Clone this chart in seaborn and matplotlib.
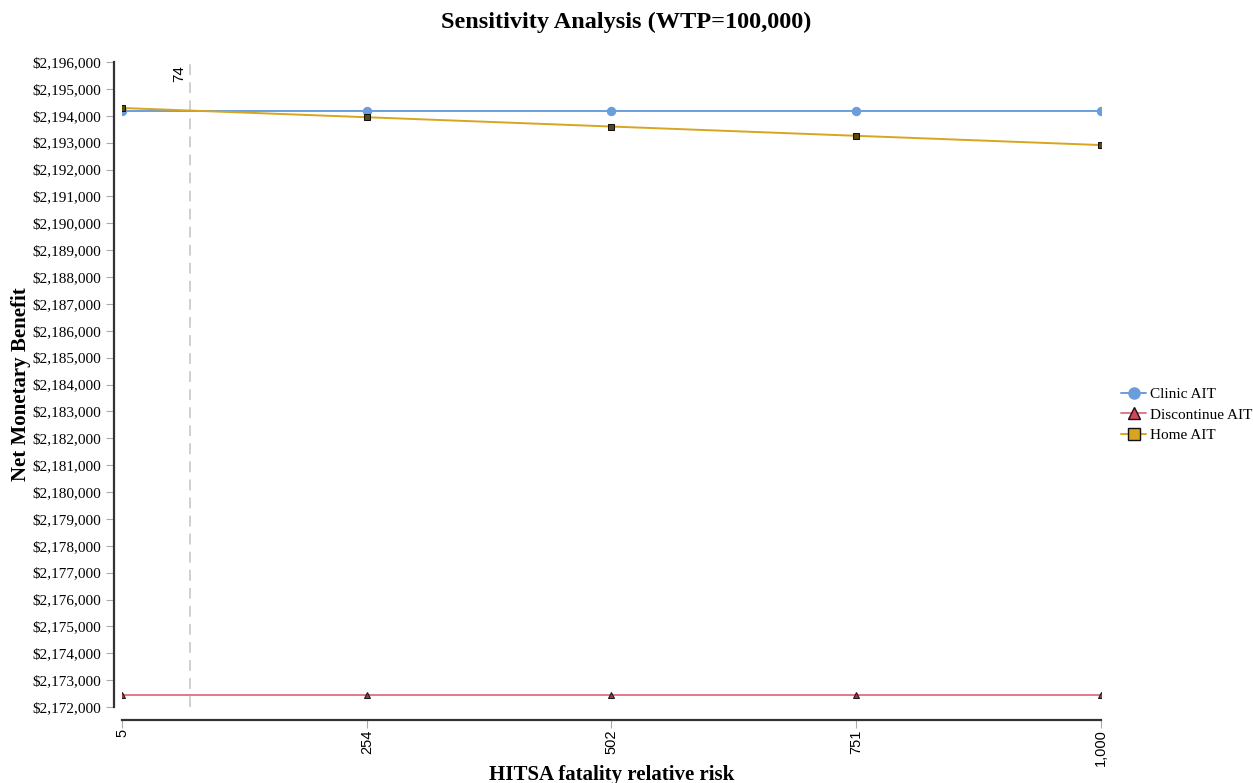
import pandas as pd
import matplotlib.pyplot as plt
import seaborn as sns
from matplotlib.lines import Line2D
from matplotlib.ticker import FuncFormatter

# values
risk = [5, 254, 502, 751, 1000]
clinic_ait = [2194195, 2194195, 2194195, 2194195, 2194195]
discontinue_ait = [2172430, 2172430, 2172430, 2172430, 2172430]
home_ait = [2194290, 2193945, 2193600, 2193255, 2192910]
threshold = 74
x_tick_labels = ['5', '254', '502', '751', '1,000']

sns.set_theme(style='white')
plt.rcParams['font.family'] = ['Liberation Serif', 'DejaVu Serif']
plt.rcParams['text.color'] = 'black'
plt.rcParams['axes.labelcolor'] = 'black'

df = pd.DataFrame({
    'risk': risk * 3,
    'nmb': clinic_ait + discontinue_ait + home_ait,
    'strategy': ['Clinic AIT'] * 5 + ['Discontinue AIT'] * 5 + ['Home AIT'] * 5,
})

styles = {
    'Clinic AIT': dict(color='#6a9edb', marker='o', mfc='#6a9edb', mec='#6a9edb', ms=6),
    'Discontinue AIT': dict(color='#e07a8a', marker='^', mfc='#b03048', mec='#1a1a1a', ms=5),
    'Home AIT': dict(color='#d9a520', marker='s', mfc='#5a4a10', mec='#111111', ms=4),
}

fig = plt.figure(figsize=(12.53, 7.83), dpi=100)
ax = fig.add_axes([0.0974, 0.097, 0.7813, 0.8238])

for name, st in styles.items():
    sub = df[df['strategy'] == name]
    sns.lineplot(data=sub, x='risk', y='nmb', ax=ax, color=st['color'],
                 marker=st['marker'], markerfacecolor=st['mfc'],
                 markeredgecolor=st['mec'], markersize=st['ms'],
                 linewidth=1.4, legend=False)

ax.axvline(threshold, color='#cccccc', linestyle=(0, (6, 4)), linewidth=1.3, zorder=0)
ax.text(threshold - 4, 2195900, str(threshold), rotation=90, ha='right', va='top',
        fontsize=11, fontfamily='Liberation Sans')

ax.set_xlim(5, 1000)
ax.set_ylim(2172000, 2196000)

# spine offsets first: set_position resets the ticks
sns.despine(ax=ax)
ax.spines['left'].set_position(('outward', 6))
ax.spines['bottom'].set_position(('outward', 9))
for s in ['left', 'bottom']:
    ax.spines[s].set_color('#333333')
    ax.spines[s].set_linewidth(1.6)

ax.set_yticks(range(2172000, 2196001, 1000))
ax.yaxis.set_major_formatter(FuncFormatter(lambda v, p: f'${v:,.0f}'))
ax.set_xticks(risk)
ax.set_xticklabels(x_tick_labels)
ax.tick_params(axis='both', direction='out', length=6, width=0.8, color='#aaaaaa',
               labelcolor='black', bottom=True, left=True, pad=3)
ax.tick_params(axis='y', labelsize=11)
ax.tick_params(axis='x', labelsize=10.5, labelrotation=90, pad=1)
for lab in ax.get_xticklabels():
    lab.set_fontfamily('Liberation Sans')

ax.set_xlabel('HITSA fatality relative risk', fontsize=15, fontweight='bold', va='center')
ax.xaxis.set_label_coords(0.5, -0.105)
ax.set_ylabel('Net Monetary Benefit', fontsize=15, fontweight='bold')
ax.yaxis.set_label_coords(-0.093, 0.5)
fig.suptitle('Sensitivity Analysis (WTP=100,000)', fontsize=17.5, fontweight='bold', y=0.985)

handles = [Line2D([0], [0], color=styles[n]['color'], marker=styles[n]['marker'],
                  markerfacecolor=m, markeredgecolor=e, markersize=8, linewidth=1.4)
           for n, m, e in [('Clinic AIT', '#6a9edb', '#6a9edb'),
                           ('Discontinue AIT', '#d6455a', '#111111'),
                           ('Home AIT', '#d9a520', '#111111')]]
fig.legend(handles, list(styles.keys()), loc='center left', bbox_to_anchor=(0.89, 0.47),
           frameon=False, fontsize=11, handlelength=1.6, handletextpad=0.3,
           labelspacing=0.45, borderaxespad=0)

plt.savefig('out.png', dpi=100)
plt.close()
